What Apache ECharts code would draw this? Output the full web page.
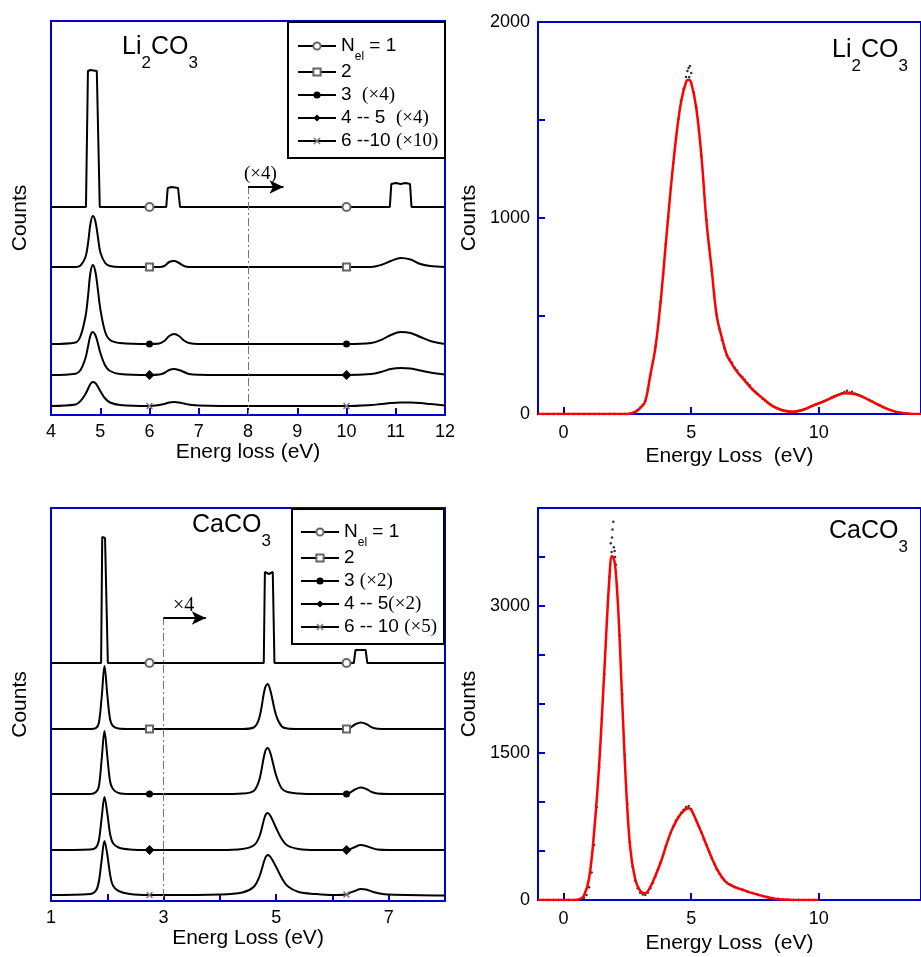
<!DOCTYPE html>
<html>
<head>
<meta charset="utf-8">
<script src="https://cdn.jsdelivr.net/npm/echarts@6/dist/echarts.min.js"></script>
<style>
html,body{margin:0;padding:0;background:#fff}
#chart{width:921px;height:957px}
</style>
</head>
<body>
<div id="chart"></div>
<script>
// ---- Li2CO3, stacked spectra (offset counts, arbitrary units) ----
var TL_X = [4.0, 4.5, 4.6, 4.7, 4.75, 4.8, 4.85, 4.9, 4.95, 5.0, 5.1, 5.2, 5.4, 6.0, 6.2, 6.3, 6.4, 6.5, 6.6, 6.7, 6.8, 7.0, 8.0, 10.0, 10.5, 10.7, 10.9, 11.1, 11.3, 11.5, 11.7, 12.0];
var TL_N1_X = [4.0, 4.71, 4.75, 4.8, 4.93, 4.96, 4.99, 6.0, 6.34, 6.37, 6.45, 6.58, 6.62, 10.0, 10.88, 10.91, 11.0, 11.1, 11.2, 11.29, 11.32, 12.0];
var TL_N1 = [208, 208, 344, 345, 344, 343, 208, 208, 208, 227, 228, 227, 208, 208, 208, 231, 232, 231, 232, 231, 208, 208];
var TL_N2 = [148, 148, 149.5, 158, 171, 191, 199, 194, 179, 163, 152, 149, 148, 148, 148, 149, 153, 154, 152, 149, 148, 148, 148, 148, 148, 150, 154, 157, 155.5, 151, 149, 148];
var TL_N3 = [71, 72.5, 79, 98.5, 118, 142, 150, 143.5, 126, 106.5, 83, 75, 72, 71, 71.5, 74, 79, 81, 79, 74.5, 72, 71, 71, 71, 72, 75, 80, 83, 82, 78, 74, 71];
var TL_N45 = [40, 41.3, 45, 57, 68, 79.5, 83, 80, 72, 62.5, 49.5, 44, 41, 40, 40.5, 42, 45, 46, 45, 43, 41, 40.3, 40, 40, 41, 43, 46, 47, 46.5, 44.5, 42.5, 40.5];
var TL_N610 = [9, 10.5, 14, 21, 26, 31, 33, 32, 28.5, 24, 16.5, 12.5, 10, 9, 10, 11, 12.5, 13, 12.5, 11.5, 10.5, 9.5, 9, 9, 10, 11, 12, 12.5, 12.5, 12, 11, 9.5];
var TL_MARKS = [6, 10];
var TL_GUIDE = [8, 229, 228, 8.72];

// ---- CaCO3, stacked spectra ----
var BL_X = [1.0, 1.7, 1.8, 1.85, 1.9, 1.95, 2.0, 2.05, 2.1, 2.2, 2.4, 2.75, 3.0, 4.0, 4.4, 4.6, 4.7, 4.8, 4.85, 4.9, 5.0, 5.1, 5.2, 5.4, 5.7, 6.0, 6.25, 6.3, 6.4, 6.5, 6.6, 6.7, 6.8, 7.0, 8.0];
var BL_N1_X = [1.0, 1.89, 1.91, 1.96, 1.99, 2.01, 2.75, 4.78, 4.80, 4.87, 4.94, 4.97, 6.25, 6.38, 6.41, 6.59, 6.62, 8.0];
var BL_N1 = [238, 238, 364, 363, 362, 238, 238, 238, 329, 327, 329, 238, 238, 238, 251, 251, 238, 238];
var BL_N2 = [172, 172, 173, 178, 203.5, 235, 206.5, 181.5, 175, 172.5, 172, 172, 172, 172, 172, 173.5, 183, 212.5, 217, 210, 185.5, 174.5, 172.5, 172, 172, 172, 172, 172.7, 176.5, 178.5, 177, 173.6, 172.3, 172, 172];
var BL_N3 = [107, 107, 109, 114.5, 141.5, 170, 145, 119.5, 112, 108, 107, 107, 107, 107, 107.5, 110, 121, 148.5, 153, 147.5, 125.5, 112.5, 109, 107.5, 107, 107, 107, 108, 111.5, 113.5, 112, 109, 107.5, 107, 107];
var BL_N45 = [51, 51.5, 53.5, 60.5, 83, 104, 88, 67, 58, 53.5, 51.5, 51, 51, 51, 52, 55.5, 64, 84.5, 88, 85, 73, 62, 55.5, 52, 51, 51, 51, 51.5, 54, 56, 55, 53, 51.5, 51, 51];
var BL_N610 = [6, 7, 10.5, 19.5, 41, 60, 46.5, 26.5, 15.5, 10, 7, 6, 6, 6.5, 8.5, 14, 24, 42, 46, 44, 34, 23, 15, 9, 7, 6, 6.5, 8, 10, 12, 11.5, 9.5, 8, 6.5, 5.5];
var BL_MARKS = [2.75, 6.25];
var BL_GUIDE = [3, 284, 283, 3.75];

// ---- Li2CO3 spectrum + fit ----
var TR_FIT_X = [-1, 2.0, 2.5, 2.8, 3.0, 3.2, 3.4, 3.6, 3.8, 4.0, 4.2, 4.4, 4.6, 4.8, 4.9, 5.0, 5.2, 5.4, 5.6, 5.8, 6.0, 6.2, 6.4, 6.6, 6.8, 7.0, 7.4, 7.8, 8.2, 8.6, 9.0, 9.4, 9.8, 10.2, 10.6, 11.0, 11.4, 11.8, 12.2, 12.6, 13.0, 13.4, 14.0];
var TR_FIT_Y = [0, 0, 0, 10, 30, 65, 200, 340, 570, 860, 1150, 1400, 1590, 1695, 1705, 1690, 1560, 1316, 980, 740, 500, 390, 300, 255, 215, 185, 125, 80, 40, 18, 12, 22, 45, 65, 88, 106, 102, 82, 56, 30, 12, 3, 0];
var TR_DOTS = [
  [-1, 0], [-0.8, 0], [-0.6, 0], [-0.4, 0], [-0.2, 0], [0, 0], [0.2, 0], [0.4, 0], [0.6, 0], [0.8, 0], [1.0, 0], [1.2, 0], [1.4, 0], [1.6, 0], [1.8, 0], [2.0, 0], [2.2, 0], [2.4, 0],
  [2.5, 0], [2.6, 3], [2.7, 6], [2.8, 12], [2.9, 20], [3.0, 32], [3.1, 45], [3.2, 68], [3.3, 125], [3.4, 195],
  [3.5, 268], [3.6, 345], [3.7, 455], [3.8, 570], [3.9, 712], [4.0, 865], [4.1, 1005], [4.2, 1150], [4.3, 1280], [4.4, 1405],
  [4.5, 1505], [4.6, 1600], [4.7, 1660], [4.8, 1720], [4.85, 1750], [4.9, 1765], [4.92, 1720], [4.95, 1775], [5.0, 1740], [5.1, 1640],
  [5.2, 1565], [5.3, 1450], [5.4, 1315], [5.5, 1160], [5.6, 990], [5.7, 845], [5.8, 730], [5.9, 610], [6.0, 505], [6.1, 435],
  [6.2, 378], [6.3, 335], [6.4, 300], [6.5, 280], [6.6, 262], [6.7, 235], [6.8, 222], [6.9, 200], [7.0, 190], [7.1, 175],
  [7.2, 158], [7.3, 146], [7.4, 128], [7.5, 115], [7.6, 102], [7.7, 90], [7.8, 76], [7.9, 68], [8.0, 56], [8.1, 48],
  [8.2, 40], [8.3, 33], [8.4, 27], [8.5, 21], [8.6, 18], [8.7, 15], [8.8, 13], [8.9, 11], [9.0, 12], [9.1, 13],
  [9.2, 15], [9.3, 18], [9.4, 23], [9.5, 27], [9.6, 33], [9.7, 38], [9.8, 44], [9.9, 48], [10.0, 55], [10.1, 60],
  [10.2, 66], [10.3, 72], [10.4, 76], [10.5, 84], [10.6, 90], [10.7, 95], [10.8, 100], [10.9, 106], [11.0, 112], [11.1, 118],
  [11.2, 110], [11.3, 114], [11.4, 104], [11.5, 99], [11.6, 95], [11.7, 88], [11.8, 82], [11.9, 75], [12.0, 68], [12.1, 62],
  [12.2, 55], [12.3, 48], [12.4, 42], [12.5, 35], [12.6, 30], [12.7, 25], [12.8, 20], [12.9, 15], [13.0, 12], [13.1, 9],
  [13.2, 7], [13.3, 5], [13.4, 3], [13.5, 2]
];

// ---- CaCO3 spectrum + fit ----
var BR_FIT_X = [-1, 0.4, 0.6, 0.8, 1.0, 1.2, 1.4, 1.6, 1.8, 1.9, 2.0, 2.1, 2.2, 2.4, 2.6, 2.8, 3.0, 3.2, 3.4, 3.6, 3.8, 4.0, 4.2, 4.4, 4.6, 4.8, 4.9, 5.0, 5.2, 5.4, 5.6, 5.8, 6.0, 6.2, 6.4, 6.6, 6.8, 7.0, 7.4, 7.8, 8.2, 8.6, 9.0, 10.0];
var BR_FIT_Y = [0, 0, 5, 45, 220, 700, 1400, 2350, 3300, 3510, 3450, 3150, 2650, 1420, 560, 220, 95, 70, 135, 250, 380, 540, 690, 800, 880, 930, 935, 920, 810, 690, 560, 430, 320, 235, 175, 145, 122, 105, 70, 40, 16, 5, 0, 0];
var BR_DOTS = [
  [-1, 0], [-0.8, 0], [-0.6, 0], [-0.4, 0], [-0.2, 0], [0, 0], [0.2, 0], [0.4, 0],
  [0.6, 0], [0.7, 5], [0.8, 20], [0.9, 50], [1.0, 130], [1.1, 280], [1.2, 560], [1.3, 950], [1.4, 1350], [1.5, 1850],
  [1.6, 2300], [1.7, 2850], [1.8, 3300], [1.85, 3640], [1.88, 3550], [1.9, 3700], [1.92, 3780], [1.95, 3860], [1.97, 3600], [2.0, 3560],
  [2.02, 3500], [2.05, 3420], [2.1, 3200], [2.2, 2700], [2.3, 2100], [2.4, 1480], [2.5, 980], [2.6, 590], [2.7, 340], [2.8, 200],
  [2.9, 120], [3.0, 75], [3.1, 55], [3.2, 50], [3.3, 75], [3.4, 120], [3.5, 175], [3.6, 240], [3.7, 310], [3.8, 385],
  [3.9, 460], [4.0, 545], [4.1, 615], [4.2, 690], [4.3, 750], [4.4, 810], [4.5, 850], [4.6, 890], [4.7, 920], [4.8, 950],
  [4.9, 960], [5.0, 925], [5.1, 870], [5.2, 810], [5.3, 750], [5.4, 690], [5.5, 620], [5.6, 560], [5.7, 495], [5.8, 430],
  [5.9, 370], [6.0, 315], [6.1, 270], [6.2, 230], [6.3, 200], [6.4, 175], [6.5, 160], [6.6, 148], [6.7, 135], [6.8, 125],
  [6.9, 115], [7.0, 106], [7.2, 88], [7.4, 72], [7.6, 56], [7.8, 42], [8.0, 30], [8.2, 20], [8.4, 12], [8.6, 6],
  [8.8, 2], [9.0, 0], [9.2, 0], [9.4, 0], [9.6, 0], [9.8, 0], [10.0, 0]
];

var BLUE = '#0000cc';
var FONT = 'Liberation Sans, Arial, sans-serif';
var SERIF = 'Liberation Serif, Times New Roman, serif';
var CROSS = 'path://M0,1.5L1.5,0L5,3.5L8.5,0L10,1.5L6.5,5L10,8.5L8.5,10L5,6.5L1.5,10L0,8.5L3.5,5Z';

var myChart = echarts.init(document.getElementById('chart'));

function pairs(xs, ys) {
	return xs.map(function(x, i) { return [x, ys[i]] });
}

// stacked curve, symbol only drawn at the marker positions
function curve(name, xs, ys, idx, sym, col, size, marks, smooth) {
	var data = xs.map(function(x, i) {
		if(marks.indexOf(x) >= 0) return [x, ys[i]];
		return { value: [x, ys[i]], symbol: 'none' };
	});
	return {
		name: name, type: 'line', xAxisIndex: idx, yAxisIndex: idx,
		data: data, smooth: smooth ? 0.35 : false,
		symbol: sym, symbolSize: size, showSymbol: true, showAllSymbol: true,
		lineStyle: { color: '#000', width: 2 },
		itemStyle: { color: col, borderWidth: 1 },
		silent: true, z: 3
	};
}

function guide(g) {
	return {
		silent: true, symbol: ['none', 'none'], label: { show: false },
		data: [
			[{ coord: [g[0], g[1]], lineStyle: { color: '#777', width: 1, type: [8, 3, 2, 3] } }, { coord: [g[0], 0] }],
			[{ coord: [g[0], g[2]], lineStyle: { color: '#000', width: 2, type: 'solid' } }, { coord: [g[3], g[2]], symbol: 'arrow', symbolSize: [10, 14] }]
		]
	};
}

function legendItem(name, left, top, text) {
	return {
		data: [name], left: left, top: top, orient: 'vertical', padding: 0,
		itemWidth: 38, itemHeight: 9, selectedMode: false,
		formatter: function() { return text },
		textStyle: {
			fontSize: 19, color: '#000', fontFamily: FONT, lineHeight: 20,
			rich: {
				sub: { fontSize: 12, fontFamily: FONT, color: '#000', lineHeight: 20, padding: [22, 0, 0, 0] },
				s: { fontSize: 19, fontFamily: SERIF, color: '#000', lineHeight: 20 }
			}
		}
	};
}

function formula(left, top, text) {
	return {
		text: text, left: left, top: top, padding: 0,
		textStyle: {
			fontSize: 25, fontWeight: 'normal', color: '#000', fontFamily: FONT, lineHeight: 30,
			rich: {
				a: { fontSize: 25, fontFamily: FONT, color: '#000', lineHeight: 30 },
				b: { fontSize: 17, fontFamily: FONT, color: '#000', lineHeight: 30, padding: [32, 0, 0, 0] }
			}
		}
	};
}

function xAx(grid, min, max, name, nameGap, margin, extra) {
	var ax = {
		type: 'value', gridIndex: grid, min: min, max: max,
		name: name, nameLocation: 'middle', nameGap: nameGap,
		nameTextStyle: { fontSize: 21, color: '#000', fontFamily: FONT },
		axisLine: { show: true, onZero: false, lineStyle: { color: BLUE, width: 2 } },
		axisTick: { show: true, inside: true, length: 7, lineStyle: { color: BLUE, width: 2 } },
		axisLabel: { color: '#000', fontSize: 18, fontFamily: FONT, margin: margin },
		splitLine: { show: false }
	};
	return Object.assign(ax, extra || {});
}

function yAx(grid, min, max, nameGap, extra) {
	var ax = {
		type: 'value', gridIndex: grid, min: min, max: max,
		name: 'Counts', nameLocation: 'middle', nameGap: nameGap,
		nameTextStyle: { fontSize: 21, color: '#000', fontFamily: FONT },
		axisLine: { show: true, onZero: false, lineStyle: { color: BLUE, width: 2 } },
		axisTick: { show: false },
		axisLabel: { show: false },
		splitLine: { show: false }
	};
	return Object.assign(ax, extra || {});
}

var gridStyle = { show: true, borderColor: BLUE, borderWidth: 2, backgroundColor: 'transparent' };
var rightTicks = { show: true, inside: true, length: 7, lineStyle: { color: BLUE, width: 2 } };

var s1 = curve('a1', TL_N1_X, TL_N1, 0, 'emptyCircle', '#666', 8, TL_MARKS, false);
var s5 = curve('a5', TL_X, TL_N610, 0, CROSS, '#777', 7, TL_MARKS, true);
s5.markLine = guide(TL_GUIDE);
var b5 = curve('b5', BL_X, BL_N610, 2, CROSS, '#777', 7, BL_MARKS, true);
b5.markLine = guide(BL_GUIDE);

var option = {
	animation: false,
	backgroundColor: '#fff',
	textStyle: { fontFamily: FONT },
	title: [
		formula(122, 32, '{a|Li}{b|2}{a|CO}{b|3}'),
		formula(832, 35, '{a|Li}{b|2}{a|CO}{b|3}'),
		formula(192, 510, '{a|CaCO}{b|3}'),
		formula(829, 516, '{a|CaCO}{b|3}')
	],
	grid: [
		Object.assign({ left: 51, top: 21, width: 394, height: 394 }, gridStyle),
		Object.assign({ left: 538, top: 22, width: 393, height: 392 }, gridStyle),
		Object.assign({ left: 51, top: 508, width: 394, height: 393 }, gridStyle),
		Object.assign({ left: 538, top: 508, width: 393, height: 392 }, gridStyle)
	],
	xAxis: [
		xAx(0, 4, 12, 'Energ loss (eV)', 22, 8, { interval: 1 }),
		xAx(1, -1, 14, 'Energy Loss  (eV)', 32, 10, {
			axisTick: Object.assign({ customValues: [0, 5, 10] }, rightTicks),
			axisLabel: { color: '#000', fontSize: 18, fontFamily: FONT, margin: 10, customValues: [0, 5, 10] }
		}),
		xAx(2, 1, 8, 'Energ Loss (eV)', 27, 8, {
			interval: 1,
			axisLabel: { color: '#000', fontSize: 18, fontFamily: FONT, margin: 8, formatter: function(v) { return v % 2 === 1 ? v : '' } }
		}),
		xAx(3, -1, 14, 'Energy Loss  (eV)', 33, 10, {
			axisTick: Object.assign({ customValues: [0, 5, 10] }, rightTicks),
			axisLabel: { color: '#000', fontSize: 18, fontFamily: FONT, margin: 10, customValues: [0, 5, 10] }
		})
	],
	yAxis: [
		yAx(0, 0, 394, 20),
		yAx(1, 0, 2000, 58, {
			interval: 500, axisTick: rightTicks,
			axisLabel: { show: true, color: '#000', fontSize: 18, fontFamily: FONT, margin: 8, formatter: function(v) { return v % 1000 === 0 ? v : '' } }
		}),
		yAx(2, 0, 393, 20),
		yAx(3, 0, 4000, 58, {
			interval: 500, axisTick: rightTicks,
			axisLabel: { show: true, color: '#000', fontSize: 18, fontFamily: FONT, margin: 8, formatter: function(v) { return v % 1500 === 0 && v < 4000 ? v : '' } }
		})
	],
	legend: [
		legendItem('a1', 297, 29, 'N{sub|el} = 1'),
		legendItem('a2', 297, 62, '2'),
		legendItem('a3', 297, 85, '3  {s|(×4)}'),
		legendItem('a4', 297, 108, '4 -- 5  {s|(×4)}'),
		legendItem('a5', 297, 131, '6 --10 {s|(×10)}'),
		legendItem('b1', 300, 515, 'N{sub|el} = 1'),
		legendItem('b2', 300, 548, '2'),
		legendItem('b3', 300, 571, '3 {s|(×2)}'),
		legendItem('b4', 300, 594, '4 -- 5{s|(×2)}'),
		legendItem('b5', 300, 617, '6 -- 10 {s|(×5)}')
	],
	graphic: [
		{ type: 'rect', shape: { x: 288, y: 22, width: 157, height: 136 }, style: { fill: 'none', stroke: '#000', lineWidth: 2 }, z: 10 },
		{ type: 'rect', shape: { x: 292, y: 509, width: 152, height: 135 }, style: { fill: 'none', stroke: '#000', lineWidth: 2 }, z: 10 },
		{ type: 'text', left: 244, top: 165, style: { text: '(×4)', font: '19px ' + SERIF, fill: '#000' }, z: 10 },
		{ type: 'text', left: 173, top: 596, style: { text: '×4', font: '20px ' + SERIF, fill: '#000' }, z: 10 }
	],
	series: [
		s1,
		curve('a2', TL_X, TL_N2, 0, 'emptyRect', '#666', 7, TL_MARKS, true),
		curve('a3', TL_X, TL_N3, 0, 'circle', '#000', 7, TL_MARKS, true),
		curve('a4', TL_X, TL_N45, 0, 'diamond', '#000', 10, TL_MARKS, true),
		s5,
		{
			name: 'tr_dots', type: 'scatter', xAxisIndex: 1, yAxisIndex: 1,
			data: TR_DOTS, symbol: 'circle', symbolSize: 2.5, itemStyle: { color: '#000' }, silent: true, z: 2
		},
		{
			name: 'tr_fit', type: 'line', xAxisIndex: 1, yAxisIndex: 1,
			data: pairs(TR_FIT_X, TR_FIT_Y), smooth: 0.4, showSymbol: false,
			lineStyle: { color: '#ff0000', width: 2.5 }, silent: true, z: 3
		},
		curve('b1', BL_N1_X, BL_N1, 2, 'emptyCircle', '#666', 8, BL_MARKS, false),
		curve('b2', BL_X, BL_N2, 2, 'emptyRect', '#666', 7, BL_MARKS, true),
		curve('b3', BL_X, BL_N3, 2, 'circle', '#000', 7, BL_MARKS, true),
		curve('b4', BL_X, BL_N45, 2, 'diamond', '#000', 10, BL_MARKS, true),
		b5,
		{
			name: 'br_dots', type: 'scatter', xAxisIndex: 3, yAxisIndex: 3,
			data: BR_DOTS, symbol: 'circle', symbolSize: 2.5, itemStyle: { color: '#000' }, silent: true, z: 2
		},
		{
			name: 'br_fit', type: 'line', xAxisIndex: 3, yAxisIndex: 3,
			data: pairs(BR_FIT_X, BR_FIT_Y), smooth: 0.4, showSymbol: false,
			lineStyle: { color: '#ff0000', width: 2.5 }, silent: true, z: 3
		}
	]
};
myChart.setOption(option);
</script>
</body>
</html>
